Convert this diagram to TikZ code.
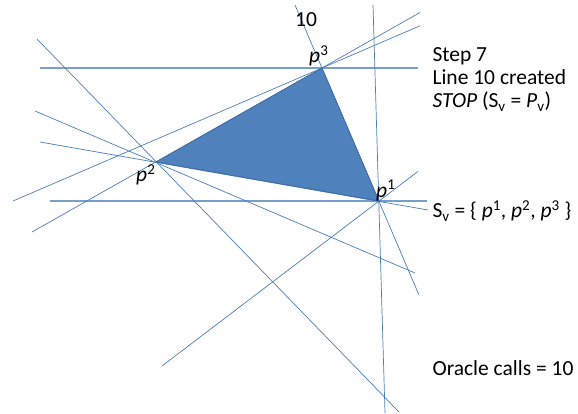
\documentclass[tikz,border=0pt]{standalone}
\usepackage{fontspec}
\setmainfont{Carlito}
\definecolor{lineblue}{HTML}{4A7EBB}
\definecolor{triblue}{HTML}{4F81BD}
\definecolor{triedge}{HTML}{3F6BA0}
\begin{document}
\begin{tikzpicture}[x=1pt, y=-1pt, every node/.style={font=\fontsize{21.5}{23}\selectfont},
  cut/.style={draw=lineblue, line width=0.7pt},
  level/.style={draw=lineblue!75, line width=1.4pt}]
  \useasboundingbox (0,0) rectangle (578,414);
  % extreme points
  \coordinate (p1) at (379,201);
  \coordinate (p2) at (156,162);
  \coordinate (p3) at (322,68);
  % line ends
  \coordinate (ha) at (40,68);    \coordinate (hb) at (418,68);
  \coordinate (sa) at (50,201);   \coordinate (sb) at (427,201);
  \coordinate (aa) at (37,39);    \coordinate (ab) at (399,412);
  \coordinate (ba) at (35,111);   \coordinate (bb) at (415,273);
  \coordinate (ca) at (40,142);   \coordinate (cb) at (428,210);
  \coordinate (da) at (32,232);   \coordinate (db) at (420,12.5);
  \coordinate (ea) at (13,201);   \coordinate (eb) at (420,25.8);
  \coordinate (fa) at (295,5);    \coordinate (fb) at (419,295);
  \coordinate (ga) at (373,5);    \coordinate (gb) at (385,413);
  \coordinate (ka) at (162,366);  \coordinate (kb) at (418,171.4);
  % the ten lines
  \draw[level] (ha) -- (hb);
  \draw[level] (sa) -- (sb);
  \draw[cut] (aa) -- (ab);
  \draw[cut] (ba) -- (bb);
  \draw[cut] (ca) -- (cb);
  \draw[cut] (da) -- (db);
  \draw[cut] (ea) -- (eb);
  \draw[cut] (fa) -- (fb);
  \draw[cut] (ga) -- (gb);
  \draw[cut] (ka) -- (kb);
  \node[anchor=base] (ten) at (306,27) {10};
  % hull
  \filldraw[fill=triblue, draw=triedge, line width=0.8pt] (p1) -- (p2) -- (p3) -- cycle;
  \node[anchor=base west, inner sep=0pt] (l2) at (136,182) {\textit{p}\textsuperscript{2}};
  \node[anchor=base west, inner sep=0pt] (l3) at (309,63) {\textit{p}\textsuperscript{3}};
  \node[anchor=base west, inner sep=0pt] (l1) at (376,197) {\textit{p}\textsuperscript{1}};
  % status text
  \node[anchor=base west] (step) at (429,62) {Step 7};
  \node[anchor=base west] (made) at (429,85) {Line 10 created};
  \node[anchor=base west] (stop) at (429,108) {\textit{STOP} (S\textsubscript{v} = \textit{P}\textsubscript{v})};
  \node[anchor=base west] (sv) at (429,218) {S\textsubscript{v} = \{ \textit{p}\textsuperscript{1}, \textit{p}\textsuperscript{2}, \textit{p}\textsuperscript{3} \}};
  \node[anchor=base west] (calls) at (429,375) {Oracle calls = 10};
\end{tikzpicture}
\end{document}
